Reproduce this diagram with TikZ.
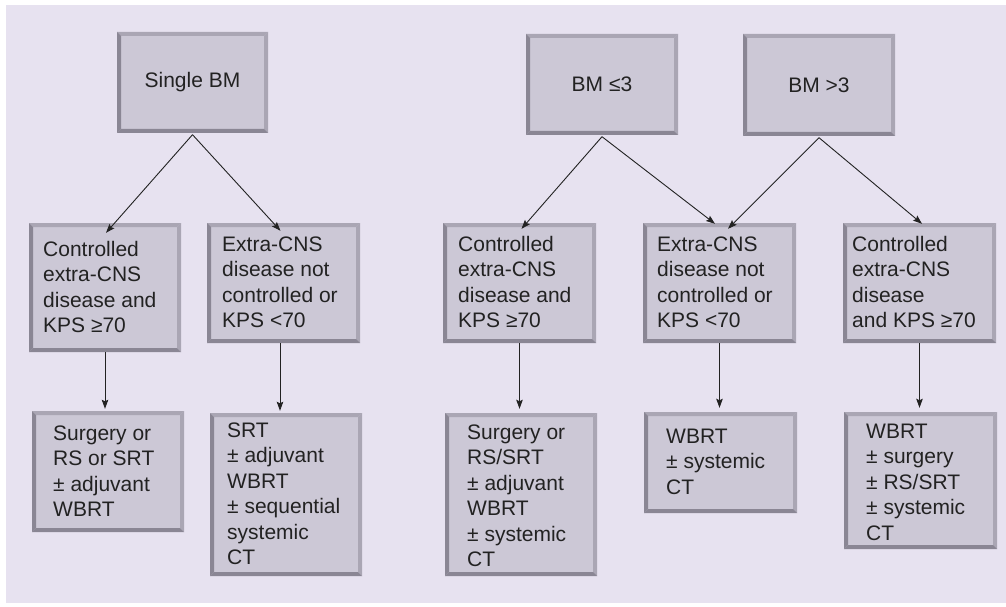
\documentclass[tikz,border=0pt]{standalone}
\usepackage{fontspec}
\setmainfont{Liberation Sans}
\usetikzlibrary{arrows.meta}
\definecolor{bg}{RGB}{231,226,240}
\definecolor{boxfill}{RGB}{204,200,214}
\definecolor{bevlight}{RGB}{170,166,180}
\definecolor{bevdark}{RGB}{138,134,148}
\definecolor{ink}{RGB}{34,34,34}
\newcommand\firstln{\rule{0pt}{17pt}}
\tikzset{
 bbox/.style={rectangle, inner sep=0pt, fill=boxfill, text=ink,
  font=\fontsize{21}{25.5}\selectfont,
  path picture={
   \fill[bevlight] (path picture bounding box.north west) -- (path picture bounding box.north east)
     -- ++(-4pt,-4pt) -- ([shift={(4pt,-4pt)}]path picture bounding box.north west) -- cycle;
   \fill[bevlight] (path picture bounding box.north east) -- (path picture bounding box.south east)
     -- ++(-4pt,4pt) -- ([shift={(-4pt,-4pt)}]path picture bounding box.north east) -- cycle;
   \fill[bevdark] (path picture bounding box.south west) -- (path picture bounding box.south east)
     -- ++(-4pt,4pt) -- ([shift={(4pt,4pt)}]path picture bounding box.south west) -- cycle;
   \fill[bevdark] (path picture bounding box.north west) -- (path picture bounding box.south west)
     -- ++(4pt,4pt) -- ([shift={(4pt,-4pt)}]path picture bounding box.north west) -- cycle;
  }},
 txt/.style={anchor=north west, inner sep=0pt, align=left, text=ink,
  font=\fontsize{21}{25.5}\selectfont},
 arr/.style={draw=ink, line width=0.9pt, -{Stealth[length=9pt,width=6.5pt,inset=1.5pt]}}
}
\begin{document}
\begin{tikzpicture}[x=1pt,y=-1pt]
\useasboundingbox (0,0) rectangle (1006,607);
\fill[white] (0,0) rectangle (1006,607);
\fill[bg] (6,5) rectangle (1006,603);

% top row
\node[bbox, minimum width=151pt, minimum height=101pt] (A) at (192.5,82.5) {Single BM};
\node[bbox, minimum width=152pt, minimum height=101pt] (B) at (602,84.5) {BM ≤3};
\node[bbox, minimum width=152pt, minimum height=102pt] (C) at (819,85) {BM >3};

% second row
\node[bbox, minimum width=152pt, minimum height=129pt] (D1) at (105,287.5) {};
\node[bbox, minimum width=153pt, minimum height=120pt] (D2) at (283.5,283) {};
\node[bbox, minimum width=153pt, minimum height=120pt] (D3) at (519.5,283) {};
\node[bbox, minimum width=153pt, minimum height=120pt] (D4) at (719.5,283) {};
\node[bbox, minimum width=153pt, minimum height=120pt] (D5) at (919.5,283) {};

\node[txt] (D1t) at (43,239) {\firstln Controlled\\extra-CNS\\disease and\\KPS ≥70};
\node[txt] (D2t) at (222,234) {\firstln Extra-CNS\\disease not\\controlled or\\KPS <70};
\node[txt] (D3t) at (458,234) {\firstln Controlled\\extra-CNS\\disease and\\KPS ≥70};
\node[txt] (D4t) at (657,234) {\firstln Extra-CNS\\disease not\\controlled or\\KPS <70};
\node[txt] (D5t) at (852,234) {\firstln Controlled\\extra-CNS\\disease\\and KPS ≥70};

% third row
\node[bbox, minimum width=152pt, minimum height=121pt] (E1) at (108,471.5) {};
\node[bbox, minimum width=152pt, minimum height=163pt] (E2) at (286,494.5) {};
\node[bbox, minimum width=152pt, minimum height=163pt] (E3) at (521,494.5) {};
\node[bbox, minimum width=153pt, minimum height=101pt] (E4) at (720.5,462.5) {};
\node[bbox, minimum width=153pt, minimum height=137pt] (E5) at (920.5,480.5) {};

\node[txt] (E1t) at (53,423) {\firstln Surgery or\\RS or SRT\\± adjuvant\\WBRT};
\node[txt] (E2t) at (227,420) {\firstln SRT\\± adjuvant\\WBRT\\± sequential\\systemic\\CT};
\node[txt] (E3t) at (467,422) {\firstln Surgery or\\RS/SRT\\± adjuvant\\WBRT\\± systemic\\CT};
\node[txt] (E4t) at (666,426) {\firstln WBRT\\± systemic\\CT};
\node[txt] (E5t) at (866,421) {\firstln WBRT\\± surgery\\± RS/SRT\\± systemic\\CT};

% connectors
\draw[arr] ([yshift=-1.5pt]A.south) -- ([shift={(1pt,-10pt)}]D1.north);
\draw[arr] ([yshift=-1.5pt]A.south) -- ([shift={(-3pt,-8pt)}]D2.north);
\draw[arr] ([yshift=-1.5pt]B.south) -- ([shift={(2pt,-6pt)}]D3.north);
\draw[arr] ([yshift=-1.5pt]B.south) -- ([shift={(-4.5pt,-1pt)}]D4.north);
\draw[arr] ([yshift=-1.5pt]C.south) -- ([shift={(8.5pt,-6pt)}]D4.north);
\draw[arr] ([yshift=-1.5pt]C.south) -- ([shift={(2.5pt,-1pt)}]D5.north);

\draw[arr, shorten >=2pt] (D1.south) -- (D1.south |- E1.north);
\draw[arr, shorten >=2pt] ([xshift=-3.5pt]D2.south) -- ([xshift=-3.5pt]D2.south |- E2.north);
\draw[arr, shorten >=4pt] (D3.south) -- (D3.south |- E3.north);
\draw[arr, shorten >=4pt] (D4.south) -- (D4.south |- E4.north);
\draw[arr, shorten >=4pt] (D5.south) -- (D5.south |- E5.north);
\end{tikzpicture}
\end{document}
